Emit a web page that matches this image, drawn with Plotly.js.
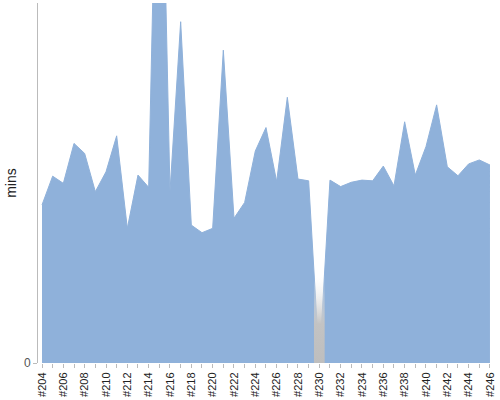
<!DOCTYPE html>
<html>
<head>
<meta charset="utf-8">
<script src="https://cdn.plot.ly/plotly-3.0.1.min.js"></script>
<style>
  html, body { margin: 0; padding: 0; background: #fff; }
  #myDiv { width: 500px; height: 400px; }
</style>
</head>
<body>
<div id="myDiv"></div>
<script>
// build numbers #204 .. #246
var builds = [];
for (var b = 204; b <= 246; b++) builds.push('#' + b);

// minutes per build (peak at #215 runs off the top)
var mins = [43.9, 51.9, 49.9, 61.0, 58.2, 47.6, 53.1, 63.1, 37.4, 52.2,
            48.8, 185, 47.6, 94.8, 38.3, 36.2, 37.4, 86.9, 40.2, 44.6,
            58.9, 65.4, 50.4, 73.8, 51.1, 50.6, 0, 50.8, 49.0, 50.2,
            50.8, 50.6, 54.7, 49.2, 67.0, 52.2, 60.1, 71.7, 54.5, 52.0,
            55.3, 56.4, 55.0];

// the failed build, marked by a grey band fading upwards
var failedBuild = '#230';
var failedHeight = 24;

// only every other build gets a label
var tickLabels = builds.map(function (b, i) { return i % 2 === 0 ? b : ''; });

var area = {
  x: builds,
  y: mins,
  type: 'scatter',
  mode: 'lines',
  fill: 'tozeroy',
  fillcolor: '#8fb1da',
  line: {color: '#8fb1da', width: 1},
  hoverinfo: 'x+y'
};

// band drawn on a hidden numeric axis that lines up with the category slots
var fi = builds.indexOf(failedBuild);
var band = {
  x: [fi - 0.5, fi + 0.5],
  y: [failedHeight, failedHeight],
  xaxis: 'x2',
  type: 'scatter',
  mode: 'none',
  fill: 'tozeroy',
  fillgradient: {
    type: 'vertical',
    colorscale: [[0, 'rgba(190,190,190,1)'], [0.45, 'rgba(195,195,195,1)'], [1, 'rgba(235,235,235,0)']]
  },
  hoverinfo: 'skip'
};

var xRange = [-0.375, 42.19];

var layout = {
  width: 500,
  height: 400,
  margin: {l: 38, r: 8, t: 3, b: 37},
  paper_bgcolor: '#fff',
  plot_bgcolor: '#fff',
  showlegend: false,
  font: {family: 'Liberation Sans, Arial, sans-serif', color: '#333'},
  xaxis: {
    type: 'category',
    categoryorder: 'array',
    categoryarray: builds,
    range: xRange,
    tickvals: builds,
    ticktext: tickLabels,
    tickangle: -90,
    tickfont: {size: 11, color: '#222'},
    ticks: 'outside',
    ticklen: 4,
    tickcolor: '#bbb',
    showgrid: false,
    zeroline: false,
    showline: false
  },
  xaxis2: {
    type: 'linear',
    overlaying: 'x',
    range: xRange,
    visible: false
  },
  yaxis: {
    range: [0, 100],
    tickvals: [0],
    ticktext: ['0'],
    tickfont: {size: 12, color: '#555'},
    ticks: 'outside',
    ticklen: 4,
    tickcolor: '#bbb',
    showgrid: false,
    zeroline: false,
    showline: true,
    linecolor: '#bbb',
    linewidth: 1,
    title: {text: 'mins', font: {size: 14, color: '#222'}, standoff: 4}
  }
};

Plotly.newPlot('myDiv', [area, band], layout, {displayModeBar: false, staticPlot: true});
</script>
</body>
</html>
